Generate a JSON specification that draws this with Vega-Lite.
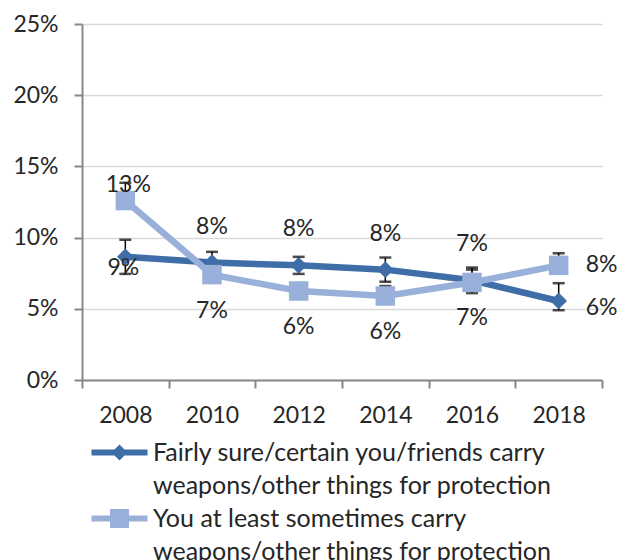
{
  "$schema": "https://vega.github.io/schema/vega-lite/v6.json",
  "width": 520,
  "height": 356,
  "autosize": "none",
  "padding": {"left": 82, "top": 24, "right": 19, "bottom": 180},
  "config": {
    "font": "Lato",
    "view": {"stroke": null},
    "axisX": {"title": null},
    "axisY": {"title": null}
  },
  "data": {
    "values": [
      {"series": "Fairly sure/certain you/friends carry weapons/other things for protection", "year": "2008", "value": 0.0865, "hi": 0.0985, "lo": 0.0745},
      {"series": "Fairly sure/certain you/friends carry weapons/other things for protection", "year": "2010", "value": 0.0825, "hi": 0.090, "lo": 0.075},
      {"series": "Fairly sure/certain you/friends carry weapons/other things for protection", "year": "2012", "value": 0.0805, "hi": 0.0865, "lo": 0.0745},
      {"series": "Fairly sure/certain you/friends carry weapons/other things for protection", "year": "2014", "value": 0.0775, "hi": 0.086, "lo": 0.069},
      {"series": "Fairly sure/certain you/friends carry weapons/other things for protection", "year": "2016", "value": 0.070, "hi": 0.079, "lo": 0.061},
      {"series": "Fairly sure/certain you/friends carry weapons/other things for protection", "year": "2018", "value": 0.0555, "hi": 0.068, "lo": 0.049},
      {"series": "You at least sometimes carry weapons/other things for protection", "year": "2008", "value": 0.126, "hi": 0.1385},
      {"series": "You at least sometimes carry weapons/other things for protection", "year": "2010", "value": 0.074, "hi": 0.079},
      {"series": "You at least sometimes carry weapons/other things for protection", "year": "2012", "value": 0.0625, "hi": 0.068},
      {"series": "You at least sometimes carry weapons/other things for protection", "year": "2014", "value": 0.059, "hi": 0.066},
      {"series": "You at least sometimes carry weapons/other things for protection", "year": "2016", "value": 0.0685, "hi": 0.0775},
      {"series": "You at least sometimes carry weapons/other things for protection", "year": "2018", "value": 0.0805, "hi": 0.089}
    ]
  },
  "encoding": {
    "x": {
      "field": "year",
      "type": "ordinal",
      "scale": {"type": "band", "paddingInner": 0, "paddingOuter": 0},
      "axis": {
        "tickBand": "extent",
        "labelAngle": 0,
        "labelFontSize": 23,
        "labelColor": "#262626",
        "labelPadding": 16,
        "tickSize": 8,
        "tickWidth": 2,
        "tickColor": "#878787",
        "domainColor": "#878787",
        "domainWidth": 2,
        "grid": false
      }
    }
  },
  "layer": [
    {
      "mark": {"type": "rule", "color": "#000000", "strokeWidth": 1.5},
      "encoding": {
        "y": {
          "field": "hi",
          "type": "quantitative",
          "scale": {"domain": [0, 0.25], "padding": 0, "nice": false},
          "axis": {
            "values": [0, 0.05, 0.1, 0.15, 0.2, 0.25],
            "format": ".0%",
            "labelFontSize": 23,
            "labelColor": "#262626",
            "labelPadding": 16,
            "tickSize": 8,
            "tickWidth": 2,
            "tickColor": "#878787",
            "domainColor": "#878787",
            "domainWidth": 2,
            "grid": true,
            "gridColor": "#d9d9d9",
            "gridWidth": 1.5
          }
        },
        "y2": {"field": "value"}
      }
    },
    {
      "transform": [{"filter": "isValid(datum.lo)"}],
      "mark": {"type": "rule", "color": "#000000", "strokeWidth": 1.5},
      "encoding": {
        "y": {"field": "value", "type": "quantitative"},
        "y2": {"field": "lo"}
      }
    },
    {
      "mark": {"type": "tick", "color": "#000000", "size": 12, "thickness": 2.5, "orient": "horizontal"},
      "encoding": {"y": {"field": "hi", "type": "quantitative"}}
    },
    {
      "transform": [{"filter": "isValid(datum.lo)"}],
      "mark": {"type": "tick", "color": "#000000", "size": 12, "thickness": 2.5, "orient": "horizontal"},
      "encoding": {"y": {"field": "lo", "type": "quantitative"}}
    },
    {
      "transform": [{"filter": "indexof(datum.series, 'Fairly') == 0"}],
      "mark": {"type": "line", "color": "#3e6da8", "strokeWidth": 6.5},
      "encoding": {"y": {"field": "value", "type": "quantitative"}}
    },
    {
      "transform": [{"filter": "indexof(datum.series, 'Fairly') == 0"}],
      "mark": {"type": "point", "shape": "diamond", "filled": true, "opacity": 1, "color": "#3e6da8", "size": 280},
      "encoding": {"y": {"field": "value", "type": "quantitative"}}
    },
    {
      "transform": [{"filter": "indexof(datum.series, 'You') == 0"}],
      "mark": {"type": "line", "color": "#98b0da", "strokeWidth": 6.5},
      "encoding": {"y": {"field": "value", "type": "quantitative"}}
    },
    {
      "transform": [{"filter": "indexof(datum.series, 'You') == 0"}],
      "mark": {"type": "point", "shape": "square", "filled": true, "opacity": 1, "color": "#98b0da", "size": 380},
      "encoding": {"y": {"field": "value", "type": "quantitative"}}
    },
    {
      "mark": {"type": "point", "filled": true, "opacity": 0},
      "encoding": {
        "y": {"field": "value", "type": "quantitative"},
        "color": {
          "field": "series",
          "type": "nominal",
          "scale": {
            "domain": ["Fairly sure/certain you/friends carry weapons/other things for protection", "You at least sometimes carry weapons/other things for protection"],
            "range": ["#3e6da8", "#98b0da"]
          },
          "legend": {
            "title": null,
            "orient": "none",
            "legendX": 25,
            "legendY": 416,
            "symbolSize": 400,
            "symbolOpacity": 1,
            "symbolStrokeWidth": 0,
            "labelFontSize": 25,
            "labelColor": "#262626",
            "labelLimit": 0,
            "labelOffset": 21,
            "labelBaseline": "middle",
            "rowPadding": 7,
            "labelExpr": "indexof(datum.label, 'Fairly') == 0 ? ['Fairly sure/certain you/friends carry', 'weapons/other things for protection'] : ['You at least sometimes carry', 'weapons/other things for protection']",
            "encode": {
              "labels": {"update": {"lineHeight": {"value": 33}}},
              "symbols": {"update": {"opacity": {"value": 1}, "strokeWidth": {"value": 0}}}
            }
          }
        },
        "shape": {
          "field": "series",
          "type": "nominal",
          "scale": {
            "domain": ["Fairly sure/certain you/friends carry weapons/other things for protection", "You at least sometimes carry weapons/other things for protection"],
            "range": ["M-2.8,-0.3H2.8V0.3H-2.8Z M0,-0.8L0.8,0L0,0.8L-0.8,0Z", "M-2.8,-0.3H2.8V0.3H-2.8Z M-0.95,-0.95H0.95V0.95H-0.95Z"]
          },
          "legend": {
            "title": null,
            "orient": "none",
            "legendX": 25,
            "legendY": 416,
            "symbolSize": 400,
            "symbolOpacity": 1,
            "symbolStrokeWidth": 0,
            "labelFontSize": 25,
            "labelColor": "#262626",
            "labelLimit": 0,
            "labelOffset": 21,
            "labelBaseline": "middle",
            "rowPadding": 7,
            "labelExpr": "indexof(datum.label, 'Fairly') == 0 ? ['Fairly sure/certain you/friends carry', 'weapons/other things for protection'] : ['You at least sometimes carry', 'weapons/other things for protection']",
            "encode": {
              "labels": {"update": {"lineHeight": {"value": 33}}},
              "symbols": {"update": {"opacity": {"value": 1}, "strokeWidth": {"value": 0}}}
            }
          }
        }
      }
    },
    {
      "transform": [{"filter": "indexof(datum.series, 'Fairly') == 0 && datum.year != '2008' && datum.year != '2018'"}],
      "mark": {"type": "text", "fontSize": 23, "color": "#262626", "dy": -36},
      "encoding": {"y": {"field": "value", "type": "quantitative"}, "text": {"field": "value", "type": "quantitative", "format": ".0%"}}
    },
    {
      "transform": [{"filter": "indexof(datum.series, 'You') == 0 && datum.year != '2008' && datum.year != '2018'"}],
      "mark": {"type": "text", "fontSize": 23, "color": "#262626", "dy": 36},
      "encoding": {"y": {"field": "value", "type": "quantitative"}, "text": {"field": "value", "type": "quantitative", "format": ".0%"}}
    },
    {
      "transform": [{"filter": "indexof(datum.series, 'Fairly') == 0 && datum.year == '2008'"}],
      "mark": {"type": "text", "fontSize": 23, "color": "#262626", "dy": 11, "dx": -2},
      "encoding": {"y": {"field": "value", "type": "quantitative"}, "text": {"field": "value", "type": "quantitative", "format": ".0%"}}
    },
    {
      "transform": [{"filter": "indexof(datum.series, 'You') == 0 && datum.year == '2008'"}],
      "mark": {"type": "text", "fontSize": 23, "color": "#262626", "dy": -16, "dx": 3},
      "encoding": {"y": {"field": "value", "type": "quantitative"}, "text": {"field": "value", "type": "quantitative", "format": ".0%"}}
    },
    {
      "transform": [{"filter": "indexof(datum.series, 'Fairly') == 0 && datum.year == '2018'"}],
      "mark": {"type": "text", "fontSize": 23, "color": "#262626", "dy": 7, "dx": 43},
      "encoding": {"y": {"field": "value", "type": "quantitative"}, "text": {"field": "value", "type": "quantitative", "format": ".0%"}}
    },
    {
      "transform": [{"filter": "indexof(datum.series, 'You') == 0 && datum.year == '2018'"}],
      "mark": {"type": "text", "fontSize": 23, "color": "#262626", "dy": 0, "dx": 43},
      "encoding": {"y": {"field": "value", "type": "quantitative"}, "text": {"field": "value", "type": "quantitative", "format": ".0%"}}
    }
  ]
}
